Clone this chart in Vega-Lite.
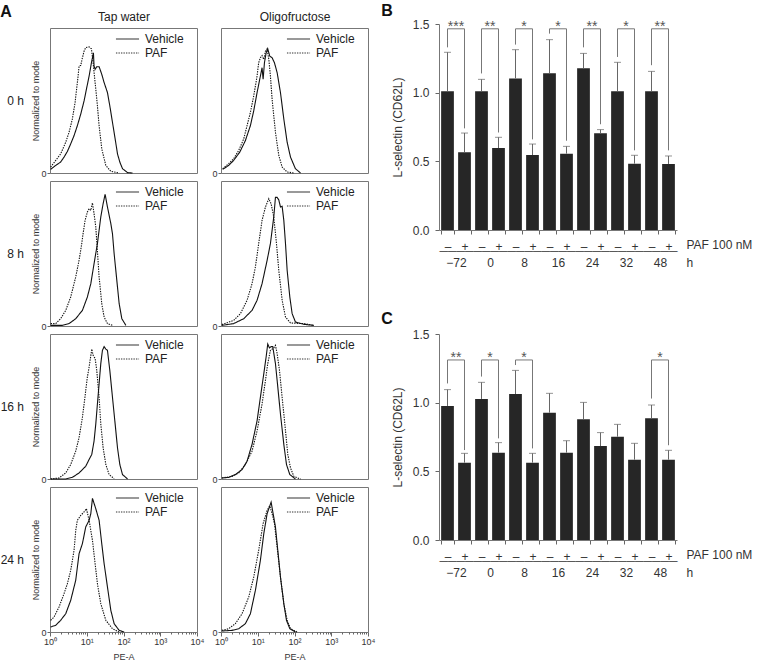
{
"$schema": "https://vega.github.io/schema/vega-lite/v6.json",
"padding": {"left": 0, "top": 3, "right": 0, "bottom": 0},
"config": {
  "font": "Liberation Sans",
  "view": {"stroke": "#777", "strokeWidth": 1},
  "axis": {"labelFont": "Liberation Sans", "titleFont": "Liberation Sans", "labelColor": "#333", "titleColor": "#333", "titleFontWeight": "normal", "tickColor": "#666", "domainColor": "#777", "grid": false},
  "legend": {"orient": "none", "legendX": 69.5, "legendY": 3, "padding": 0, "labelFontSize": 12, "labelColor": "#222", "labelFont": "Liberation Sans", "symbolType": "M-1.65,0H1.65", "symbolSize": 196, "symbolStrokeWidth": 1.2, "symbolStrokeColor": "#333", "symbolFillColor": "transparent", "rowPadding": 0, "labelOffset": 9.5},
  "title": {"font": "Liberation Sans", "color": "#111"}
},
"datasets": {
"hist": [
{"cell":"T0","cond":"PAF","pe":1.04,"v":4.7},{"cell":"T0","cond":"PAF","pe":1.43,"v":10.0},{"cell":"T0","cond":"PAF","pe":1.95,"v":15.2},{"cell":"T0","cond":"PAF","pe":2.68,"v":24.4},{"cell":"T0","cond":"PAF","pe":3.30,"v":32.3},{"cell":"T0","cond":"PAF","pe":4.06,"v":42.8},{"cell":"T0","cond":"PAF","pe":4.81,"v":55.9},{"cell":"T0","cond":"PAF","pe":5.56,"v":71.7},{"cell":"T0","cond":"PAF","pe":6.18,"v":84.8},{"cell":"T0","cond":"PAF","pe":6.86,"v":85.3},{"cell":"T0","cond":"PAF","pe":7.62,"v":91.4},{"cell":"T0","cond":"PAF","pe":8.46,"v":96.6},{"cell":"T0","cond":"PAF","pe":9.39,"v":99.5},{"cell":"T0","cond":"PAF","pe":11.6,"v":100},{"cell":"T0","cond":"PAF","pe":13.4,"v":98.5},{"cell":"T0","cond":"PAF","pe":14.9,"v":87.4},{"cell":"T0","cond":"PAF","pe":16.9,"v":71.7},{"cell":"T0","cond":"PAF","pe":19.5,"v":53.3},{"cell":"T0","cond":"PAF","pe":21.7,"v":37.6},{"cell":"T0","cond":"PAF","pe":25.6,"v":19.2},{"cell":"T0","cond":"PAF","pe":33.0,"v":6.0},{"cell":"T0","cond":"PAF","pe":45.2,"v":1.3},{"cell":"T0","cond":"PAF","pe":76.2,"v":0},
{"cell":"T0","cond":"Vehicle","pe":1.04,"v":2.9},{"cell":"T0","cond":"Vehicle","pe":1.43,"v":6.0},{"cell":"T0","cond":"Vehicle","pe":1.95,"v":8.7},{"cell":"T0","cond":"Vehicle","pe":2.41,"v":12.6},{"cell":"T0","cond":"Vehicle","pe":2.97,"v":17.1},{"cell":"T0","cond":"Vehicle","pe":3.66,"v":23.1},{"cell":"T0","cond":"Vehicle","pe":4.52,"v":29.7},{"cell":"T0","cond":"Vehicle","pe":5.56,"v":37.6},{"cell":"T0","cond":"Vehicle","pe":6.86,"v":46.7},{"cell":"T0","cond":"Vehicle","pe":8.46,"v":57.2},{"cell":"T0","cond":"Vehicle","pe":9.79,"v":66.4},{"cell":"T0","cond":"Vehicle","pe":11.6,"v":76.9},{"cell":"T0","cond":"Vehicle","pe":13.4,"v":87.4},{"cell":"T0","cond":"Vehicle","pe":15.2,"v":95.3},{"cell":"T0","cond":"Vehicle","pe":15.8,"v":84.8},{"cell":"T0","cond":"Vehicle","pe":16.9,"v":82.2},{"cell":"T0","cond":"Vehicle","pe":18.7,"v":84.3},{"cell":"T0","cond":"Vehicle","pe":21.7,"v":84.3},{"cell":"T0","cond":"Vehicle","pe":25.6,"v":78.3},{"cell":"T0","cond":"Vehicle","pe":29.7,"v":71.7},{"cell":"T0","cond":"Vehicle","pe":36.6,"v":63.8},{"cell":"T0","cond":"Vehicle","pe":42.4,"v":53.3},{"cell":"T0","cond":"Vehicle","pe":50.1,"v":40.2},{"cell":"T0","cond":"Vehicle","pe":59.3,"v":27.0},{"cell":"T0","cond":"Vehicle","pe":68.6,"v":15.2},{"cell":"T0","cond":"Vehicle","pe":79.4,"v":8.7},{"cell":"T0","cond":"Vehicle","pe":94.0,"v":3.4},{"cell":"T0","cond":"Vehicle","pe":129,"v":0.3},{"cell":"T0","cond":"Vehicle","pe":176,"v":0},
{"cell":"O0","cond":"PAF","pe":1.11,"v":3.4},{"cell":"O0","cond":"PAF","pe":1.62,"v":7.4},{"cell":"O0","cond":"PAF","pe":2.21,"v":11.3},{"cell":"O0","cond":"PAF","pe":3.03,"v":17.9},{"cell":"O0","cond":"PAF","pe":4.15,"v":27.0},{"cell":"O0","cond":"PAF","pe":5.12,"v":37.6},{"cell":"O0","cond":"PAF","pe":6.31,"v":48.1},{"cell":"O0","cond":"PAF","pe":7.78,"v":61.2},{"cell":"O0","cond":"PAF","pe":9.59,"v":76.9},{"cell":"O0","cond":"PAF","pe":10.6,"v":87.4},{"cell":"O0","cond":"PAF","pe":11.8,"v":91.4},{"cell":"O0","cond":"PAF","pe":13.1,"v":93.2},{"cell":"O0","cond":"PAF","pe":14.6,"v":90.1},{"cell":"O0","cond":"PAF","pe":16.2,"v":96.6},{"cell":"O0","cond":"PAF","pe":18.0,"v":98.5},{"cell":"O0","cond":"PAF","pe":20.0,"v":90.1},{"cell":"O0","cond":"PAF","pe":22.1,"v":76.9},{"cell":"O0","cond":"PAF","pe":24.6,"v":58.6},{"cell":"O0","cond":"PAF","pe":30.3,"v":32.3},{"cell":"O0","cond":"PAF","pe":37.4,"v":13.9},{"cell":"O0","cond":"PAF","pe":46.1,"v":4.7},{"cell":"O0","cond":"PAF","pe":63.1,"v":0.8},{"cell":"O0","cond":"PAF","pe":95.9,"v":0},
{"cell":"O0","cond":"Vehicle","pe":1.11,"v":2.9},{"cell":"O0","cond":"Vehicle","pe":1.62,"v":6.0},{"cell":"O0","cond":"Vehicle","pe":2.21,"v":10.0},{"cell":"O0","cond":"Vehicle","pe":3.23,"v":16.5},{"cell":"O0","cond":"Vehicle","pe":4.61,"v":25.7},{"cell":"O0","cond":"Vehicle","pe":6.31,"v":37.6},{"cell":"O0","cond":"Vehicle","pe":7.78,"v":49.4},{"cell":"O0","cond":"Vehicle","pe":9.59,"v":63.8},{"cell":"O0","cond":"Vehicle","pe":11.8,"v":76.9},{"cell":"O0","cond":"Vehicle","pe":13.1,"v":83.5},{"cell":"O0","cond":"Vehicle","pe":14.0,"v":74.3},{"cell":"O0","cond":"Vehicle","pe":15.2,"v":87.4},{"cell":"O0","cond":"Vehicle","pe":16.9,"v":95.3},{"cell":"O0","cond":"Vehicle","pe":18.7,"v":98.5},{"cell":"O0","cond":"Vehicle","pe":21.2,"v":92.7},{"cell":"O0","cond":"Vehicle","pe":24.6,"v":91.4},{"cell":"O0","cond":"Vehicle","pe":28.5,"v":87.4},{"cell":"O0","cond":"Vehicle","pe":33.7,"v":79.6},{"cell":"O0","cond":"Vehicle","pe":41.5,"v":63.8},{"cell":"O0","cond":"Vehicle","pe":51.2,"v":42.8},{"cell":"O0","cond":"Vehicle","pe":63.1,"v":24.4},{"cell":"O0","cond":"Vehicle","pe":77.8,"v":12.6},{"cell":"O0","cond":"Vehicle","pe":106,"v":3.4},{"cell":"O0","cond":"Vehicle","pe":146,"v":0},
{"cell":"T8","cond":"PAF","pe":1.04,"v":1.9},{"cell":"T8","cond":"PAF","pe":1.43,"v":1.9},{"cell":"T8","cond":"PAF","pe":1.95,"v":5.8},{"cell":"T8","cond":"PAF","pe":2.68,"v":12.4},{"cell":"T8","cond":"PAF","pe":3.66,"v":23.0},{"cell":"T8","cond":"PAF","pe":5.01,"v":38.9},{"cell":"T8","cond":"PAF","pe":6.18,"v":52.1},{"cell":"T8","cond":"PAF","pe":7.31,"v":65.3},{"cell":"T8","cond":"PAF","pe":7.94,"v":73.2},{"cell":"T8","cond":"PAF","pe":9.01,"v":83.8},{"cell":"T8","cond":"PAF","pe":10.4,"v":90.4},{"cell":"T8","cond":"PAF","pe":11.6,"v":93.1},{"cell":"T8","cond":"PAF","pe":12.9,"v":91.7},{"cell":"T8","cond":"PAF","pe":14.3,"v":97.6},{"cell":"T8","cond":"PAF","pe":15.8,"v":89.1},{"cell":"T8","cond":"PAF","pe":17.6,"v":78.5},{"cell":"T8","cond":"PAF","pe":19.5,"v":60.0},{"cell":"T8","cond":"PAF","pe":21.7,"v":38.9},{"cell":"T8","cond":"PAF","pe":25.6,"v":17.7},{"cell":"T8","cond":"PAF","pe":29.7,"v":7.1},{"cell":"T8","cond":"PAF","pe":36.6,"v":1.9},{"cell":"T8","cond":"PAF","pe":50.1,"v":0.5},
{"cell":"T8","cond":"Vehicle","pe":1.04,"v":0.5},{"cell":"T8","cond":"Vehicle","pe":2.17,"v":0.5},{"cell":"T8","cond":"Vehicle","pe":3.30,"v":1.9},{"cell":"T8","cond":"Vehicle","pe":5.01,"v":5.8},{"cell":"T8","cond":"Vehicle","pe":7.62,"v":12.4},{"cell":"T8","cond":"Vehicle","pe":10.4,"v":23.0},{"cell":"T8","cond":"Vehicle","pe":12.9,"v":33.6},{"cell":"T8","cond":"Vehicle","pe":15.8,"v":49.4},{"cell":"T8","cond":"Vehicle","pe":19.5,"v":65.3},{"cell":"T8","cond":"Vehicle","pe":24.1,"v":86.5},{"cell":"T8","cond":"Vehicle","pe":27.9,"v":97.0},{"cell":"T8","cond":"Vehicle","pe":31.6,"v":104.5},{"cell":"T8","cond":"Vehicle","pe":36.6,"v":94.4},{"cell":"T8","cond":"Vehicle","pe":45.2,"v":81.2},{"cell":"T8","cond":"Vehicle","pe":50.1,"v":73.2},{"cell":"T8","cond":"Vehicle","pe":55.6,"v":57.4},{"cell":"T8","cond":"Vehicle","pe":64.4,"v":38.9},{"cell":"T8","cond":"Vehicle","pe":76.2,"v":17.7},{"cell":"T8","cond":"Vehicle","pe":90.1,"v":5.8},{"cell":"T8","cond":"Vehicle","pe":116,"v":0.5},
{"cell":"O8","cond":"PAF","pe":1.06,"v":1.1},{"cell":"O8","cond":"PAF","pe":2.21,"v":4.5},{"cell":"O8","cond":"PAF","pe":3.37,"v":9.8},{"cell":"O8","cond":"PAF","pe":5.12,"v":20.4},{"cell":"O8","cond":"PAF","pe":7.00,"v":33.6},{"cell":"O8","cond":"PAF","pe":8.63,"v":46.8},{"cell":"O8","cond":"PAF","pe":10.6,"v":65.3},{"cell":"O8","cond":"PAF","pe":13.1,"v":83.8},{"cell":"O8","cond":"PAF","pe":16.2,"v":94.4},{"cell":"O8","cond":"PAF","pe":20.0,"v":101},{"cell":"O8","cond":"PAF","pe":23.1,"v":97.0},{"cell":"O8","cond":"PAF","pe":27.3,"v":86.5},{"cell":"O8","cond":"PAF","pe":32.3,"v":65.3},{"cell":"O8","cond":"PAF","pe":37.4,"v":44.2},{"cell":"O8","cond":"PAF","pe":46.1,"v":20.4},{"cell":"O8","cond":"PAF","pe":56.9,"v":7.1},{"cell":"O8","cond":"PAF","pe":77.8,"v":2.4},{"cell":"O8","cond":"PAF","pe":180,"v":1.9},{"cell":"O8","cond":"PAF","pe":337,"v":0.5},
{"cell":"O8","cond":"Vehicle","pe":1.06,"v":0.5},{"cell":"O8","cond":"Vehicle","pe":2.21,"v":1.9},{"cell":"O8","cond":"Vehicle","pe":4.15,"v":5.8},{"cell":"O8","cond":"Vehicle","pe":7.00,"v":12.4},{"cell":"O8","cond":"Vehicle","pe":9.59,"v":20.4},{"cell":"O8","cond":"Vehicle","pe":13.1,"v":33.6},{"cell":"O8","cond":"Vehicle","pe":18.0,"v":52.1},{"cell":"O8","cond":"Vehicle","pe":22.1,"v":65.3},{"cell":"O8","cond":"Vehicle","pe":27.3,"v":86.5},{"cell":"O8","cond":"Vehicle","pe":30.3,"v":102},{"cell":"O8","cond":"Vehicle","pe":33.7,"v":102},{"cell":"O8","cond":"Vehicle","pe":37.4,"v":100},{"cell":"O8","cond":"Vehicle","pe":41.5,"v":94.4},{"cell":"O8","cond":"Vehicle","pe":46.1,"v":94.9},{"cell":"O8","cond":"Vehicle","pe":51.2,"v":83.8},{"cell":"O8","cond":"Vehicle","pe":56.9,"v":65.3},{"cell":"O8","cond":"Vehicle","pe":63.1,"v":44.2},{"cell":"O8","cond":"Vehicle","pe":74.6,"v":23.0},{"cell":"O8","cond":"Vehicle","pe":86.3,"v":9.8},{"cell":"O8","cond":"Vehicle","pe":106,"v":3.2},{"cell":"O8","cond":"Vehicle","pe":180,"v":1.3},{"cell":"O8","cond":"Vehicle","pe":337,"v":0.5},
{"cell":"T16","cond":"PAF","pe":1.04,"v":0},{"cell":"T16","cond":"PAF","pe":1.76,"v":0.8},{"cell":"T16","cond":"PAF","pe":2.68,"v":4.8},{"cell":"T16","cond":"PAF","pe":3.66,"v":11.5},{"cell":"T16","cond":"PAF","pe":5.01,"v":22.1},{"cell":"T16","cond":"PAF","pe":6.18,"v":32.8},{"cell":"T16","cond":"PAF","pe":7.62,"v":48.8},{"cell":"T16","cond":"PAF","pe":8.46,"v":59.5},{"cell":"T16","cond":"PAF","pe":9.39,"v":70.2},{"cell":"T16","cond":"PAF","pe":10.4,"v":80.8},{"cell":"T16","cond":"PAF","pe":11.6,"v":88.8},{"cell":"T16","cond":"PAF","pe":13.7,"v":103},{"cell":"T16","cond":"PAF","pe":14.9,"v":98.2},{"cell":"T16","cond":"PAF","pe":16.9,"v":95.5},{"cell":"T16","cond":"PAF","pe":18.7,"v":86.2},{"cell":"T16","cond":"PAF","pe":21.7,"v":64.8},{"cell":"T16","cond":"PAF","pe":24.1,"v":43.5},{"cell":"T16","cond":"PAF","pe":27.9,"v":24.8},{"cell":"T16","cond":"PAF","pe":33.0,"v":11.5},{"cell":"T16","cond":"PAF","pe":40.6,"v":3.5},{"cell":"T16","cond":"PAF","pe":55.6,"v":0.3},
{"cell":"T16","cond":"Vehicle","pe":1.04,"v":0},{"cell":"T16","cond":"Vehicle","pe":2.68,"v":0},{"cell":"T16","cond":"Vehicle","pe":4.06,"v":1.3},{"cell":"T16","cond":"Vehicle","pe":6.18,"v":4.8},{"cell":"T16","cond":"Vehicle","pe":9.39,"v":10.1},{"cell":"T16","cond":"Vehicle","pe":11.6,"v":15.5},{"cell":"T16","cond":"Vehicle","pe":13.7,"v":19.5},{"cell":"T16","cond":"Vehicle","pe":15.8,"v":30.1},{"cell":"T16","cond":"Vehicle","pe":17.6,"v":43.5},{"cell":"T16","cond":"Vehicle","pe":19.5,"v":59.5},{"cell":"T16","cond":"Vehicle","pe":21.7,"v":75.5},{"cell":"T16","cond":"Vehicle","pe":24.1,"v":91.5},{"cell":"T16","cond":"Vehicle","pe":26.7,"v":102},{"cell":"T16","cond":"Vehicle","pe":29.7,"v":105},{"cell":"T16","cond":"Vehicle","pe":33.0,"v":103},{"cell":"T16","cond":"Vehicle","pe":36.6,"v":102},{"cell":"T16","cond":"Vehicle","pe":42.4,"v":86.2},{"cell":"T16","cond":"Vehicle","pe":50.1,"v":64.8},{"cell":"T16","cond":"Vehicle","pe":59.3,"v":43.5},{"cell":"T16","cond":"Vehicle","pe":68.6,"v":24.8},{"cell":"T16","cond":"Vehicle","pe":79.4,"v":11.5},{"cell":"T16","cond":"Vehicle","pe":94.0,"v":3.5},{"cell":"T16","cond":"Vehicle","pe":129,"v":0},
{"cell":"O16","cond":"Vehicle","pe":1.06,"v":0.8},{"cell":"O16","cond":"Vehicle","pe":1.62,"v":1.3},{"cell":"O16","cond":"Vehicle","pe":2.46,"v":3.5},{"cell":"O16","cond":"Vehicle","pe":3.74,"v":7.5},{"cell":"O16","cond":"Vehicle","pe":5.12,"v":14.1},{"cell":"O16","cond":"Vehicle","pe":7.00,"v":27.5},{"cell":"O16","cond":"Vehicle","pe":9.59,"v":46.2},{"cell":"O16","cond":"Vehicle","pe":11.8,"v":64.8},{"cell":"O16","cond":"Vehicle","pe":14.6,"v":83.5},{"cell":"O16","cond":"Vehicle","pe":16.9,"v":96.8},{"cell":"O16","cond":"Vehicle","pe":18.7,"v":107},{"cell":"O16","cond":"Vehicle","pe":20.8,"v":104},{"cell":"O16","cond":"Vehicle","pe":23.1,"v":105},{"cell":"O16","cond":"Vehicle","pe":25.6,"v":105},{"cell":"O16","cond":"Vehicle","pe":30.3,"v":91.5},{"cell":"O16","cond":"Vehicle","pe":33.7,"v":78.2},{"cell":"O16","cond":"Vehicle","pe":41.5,"v":51.5},{"cell":"O16","cond":"Vehicle","pe":51.2,"v":27.5},{"cell":"O16","cond":"Vehicle","pe":60.5,"v":11.5},{"cell":"O16","cond":"Vehicle","pe":74.6,"v":3.5},{"cell":"O16","cond":"Vehicle","pe":106,"v":0},
{"cell":"O16","cond":"PAF","pe":1.06,"v":0.8},{"cell":"O16","cond":"PAF","pe":2.0,"v":2.1},{"cell":"O16","cond":"PAF","pe":3.03,"v":4.8},{"cell":"O16","cond":"PAF","pe":4.61,"v":11.5},{"cell":"O16","cond":"PAF","pe":7.00,"v":22.1},{"cell":"O16","cond":"PAF","pe":9.59,"v":38.2},{"cell":"O16","cond":"PAF","pe":13.1,"v":59.5},{"cell":"O16","cond":"PAF","pe":16.2,"v":78.2},{"cell":"O16","cond":"PAF","pe":18.7,"v":91.5},{"cell":"O16","cond":"PAF","pe":22.1,"v":102},{"cell":"O16","cond":"PAF","pe":27.3,"v":104},{"cell":"O16","cond":"PAF","pe":30.3,"v":106},{"cell":"O16","cond":"PAF","pe":33.7,"v":99.5},{"cell":"O16","cond":"PAF","pe":39.0,"v":86.2},{"cell":"O16","cond":"PAF","pe":46.1,"v":64.8},{"cell":"O16","cond":"PAF","pe":56.9,"v":38.2},{"cell":"O16","cond":"PAF","pe":65.8,"v":19.5},{"cell":"O16","cond":"PAF","pe":77.8,"v":8.8},{"cell":"O16","cond":"PAF","pe":95.9,"v":2.1},{"cell":"O16","cond":"PAF","pe":146,"v":0},
{"cell":"T24","cond":"PAF","pe":1.04,"v":9.3},{"cell":"T24","cond":"PAF","pe":1.29,"v":11.9},{"cell":"T24","cond":"PAF","pe":1.76,"v":19.8},{"cell":"T24","cond":"PAF","pe":2.41,"v":30.4},{"cell":"T24","cond":"PAF","pe":2.97,"v":38.3},{"cell":"T24","cond":"PAF","pe":3.66,"v":48.9},{"cell":"T24","cond":"PAF","pe":4.52,"v":64.8},{"cell":"T24","cond":"PAF","pe":5.01,"v":80.6},{"cell":"T24","cond":"PAF","pe":5.56,"v":88.6},{"cell":"T24","cond":"PAF","pe":6.86,"v":92.5},{"cell":"T24","cond":"PAF","pe":8.46,"v":95.2},{"cell":"T24","cond":"PAF","pe":9.79,"v":97.8},{"cell":"T24","cond":"PAF","pe":11.6,"v":88.6},{"cell":"T24","cond":"PAF","pe":14.3,"v":72.7},{"cell":"T24","cond":"PAF","pe":16.9,"v":54.2},{"cell":"T24","cond":"PAF","pe":19.5,"v":38.3},{"cell":"T24","cond":"PAF","pe":24.1,"v":22.5},{"cell":"T24","cond":"PAF","pe":33.0,"v":9.3},{"cell":"T24","cond":"PAF","pe":50.1,"v":2.6},{"cell":"T24","cond":"PAF","pe":76.2,"v":0},
{"cell":"T24","cond":"Vehicle","pe":1.04,"v":4.0},{"cell":"T24","cond":"Vehicle","pe":1.43,"v":5.3},{"cell":"T24","cond":"Vehicle","pe":1.95,"v":9.3},{"cell":"T24","cond":"Vehicle","pe":2.68,"v":14.5},{"cell":"T24","cond":"Vehicle","pe":3.66,"v":25.1},{"cell":"T24","cond":"Vehicle","pe":5.01,"v":41.0},{"cell":"T24","cond":"Vehicle","pe":6.18,"v":62.1},{"cell":"T24","cond":"Vehicle","pe":7.62,"v":70.1},{"cell":"T24","cond":"Vehicle","pe":9.39,"v":83.3},{"cell":"T24","cond":"Vehicle","pe":11.6,"v":88.6},{"cell":"T24","cond":"Vehicle","pe":12.9,"v":93.9},{"cell":"T24","cond":"Vehicle","pe":14.3,"v":106},{"cell":"T24","cond":"Vehicle","pe":15.8,"v":102},{"cell":"T24","cond":"Vehicle","pe":17.6,"v":97.8},{"cell":"T24","cond":"Vehicle","pe":21.7,"v":88.6},{"cell":"T24","cond":"Vehicle","pe":25.6,"v":70.1},{"cell":"T24","cond":"Vehicle","pe":29.7,"v":54.2},{"cell":"T24","cond":"Vehicle","pe":36.6,"v":35.7},{"cell":"T24","cond":"Vehicle","pe":45.2,"v":17.2},{"cell":"T24","cond":"Vehicle","pe":55.6,"v":6.6},{"cell":"T24","cond":"Vehicle","pe":76.2,"v":1.3},{"cell":"T24","cond":"Vehicle","pe":104,"v":0},
{"cell":"O24","cond":"PAF","pe":1.06,"v":1.3},{"cell":"O24","cond":"PAF","pe":1.62,"v":2.6},{"cell":"O24","cond":"PAF","pe":2.46,"v":6.6},{"cell":"O24","cond":"PAF","pe":3.74,"v":14.5},{"cell":"O24","cond":"PAF","pe":5.69,"v":27.8},{"cell":"O24","cond":"PAF","pe":7.78,"v":43.6},{"cell":"O24","cond":"PAF","pe":10.6,"v":64.8},{"cell":"O24","cond":"PAF","pe":14.0,"v":85.9},{"cell":"O24","cond":"PAF","pe":18.0,"v":96.5},{"cell":"O24","cond":"PAF","pe":21.2,"v":100},{"cell":"O24","cond":"PAF","pe":24.6,"v":93.9},{"cell":"O24","cond":"PAF","pe":28.5,"v":85.9},{"cell":"O24","cond":"PAF","pe":33.7,"v":67.4},{"cell":"O24","cond":"PAF","pe":41.5,"v":43.6},{"cell":"O24","cond":"PAF","pe":51.2,"v":22.5},{"cell":"O24","cond":"PAF","pe":63.1,"v":9.3},{"cell":"O24","cond":"PAF","pe":77.8,"v":2.6},{"cell":"O24","cond":"PAF","pe":118,"v":0},
{"cell":"O24","cond":"Vehicle","pe":1.06,"v":0.8},{"cell":"O24","cond":"Vehicle","pe":2.0,"v":1.3},{"cell":"O24","cond":"Vehicle","pe":3.03,"v":2.6},{"cell":"O24","cond":"Vehicle","pe":4.61,"v":6.6},{"cell":"O24","cond":"Vehicle","pe":6.31,"v":14.5},{"cell":"O24","cond":"Vehicle","pe":8.63,"v":33.0},{"cell":"O24","cond":"Vehicle","pe":11.8,"v":56.8},{"cell":"O24","cond":"Vehicle","pe":14.6,"v":78.0},{"cell":"O24","cond":"Vehicle","pe":18.0,"v":93.9},{"cell":"O24","cond":"Vehicle","pe":23.1,"v":103},{"cell":"O24","cond":"Vehicle","pe":26.2,"v":93.9},{"cell":"O24","cond":"Vehicle","pe":30.3,"v":83.3},{"cell":"O24","cond":"Vehicle","pe":35.1,"v":64.8},{"cell":"O24","cond":"Vehicle","pe":41.5,"v":43.6},{"cell":"O24","cond":"Vehicle","pe":51.2,"v":22.5},{"cell":"O24","cond":"Vehicle","pe":60.5,"v":9.3},{"cell":"O24","cond":"Vehicle","pe":74.6,"v":2.6},{"cell":"O24","cond":"Vehicle","pe":106,"v":0}
],
"bars": [
{"panel":"B","group":"−72","key":"−72 –","mean":1.01,"err":1.294},{"panel":"B","group":"−72","key":"−72 +","mean":0.566,"err":0.706},
{"panel":"B","group":"0","key":"0 –","mean":1.01,"err":1.097},{"panel":"B","group":"0","key":"0 +","mean":0.597,"err":0.675},
{"panel":"B","group":"8","key":"8 –","mean":1.104,"err":1.313},{"panel":"B","group":"8","key":"8 +","mean":0.546,"err":0.626},
{"panel":"B","group":"16","key":"16 –","mean":1.141,"err":1.386},{"panel":"B","group":"16","key":"16 +","mean":0.556,"err":0.609},
{"panel":"B","group":"24","key":"24 –","mean":1.177,"err":1.286},{"panel":"B","group":"24","key":"24 +","mean":0.704,"err":0.731},
{"panel":"B","group":"32","key":"32 –","mean":1.01,"err":1.221},{"panel":"B","group":"32","key":"32 +","mean":0.483,"err":0.544},
{"panel":"B","group":"48","key":"48 –","mean":1.01,"err":1.155},{"panel":"B","group":"48","key":"48 +","mean":0.481,"err":0.539},
{"panel":"C","group":"−72","key":"−72 –","mean":0.976,"err":1.095},{"panel":"C","group":"−72","key":"−72 +","mean":0.563,"err":0.631},
{"panel":"C","group":"0","key":"0 –","mean":1.027,"err":1.148},{"panel":"C","group":"0","key":"0 +","mean":0.636,"err":0.709},
{"panel":"C","group":"8","key":"8 –","mean":1.063,"err":1.235},{"panel":"C","group":"8","key":"8 +","mean":0.563,"err":0.631},
{"panel":"C","group":"16","key":"16 –","mean":0.927,"err":1.068},{"panel":"C","group":"16","key":"16 +","mean":0.636,"err":0.723},
{"panel":"C","group":"24","key":"24 –","mean":0.879,"err":1.002},{"panel":"C","group":"24","key":"24 +","mean":0.684,"err":0.782},
{"panel":"C","group":"32","key":"32 –","mean":0.752,"err":0.842},{"panel":"C","group":"32","key":"32 +","mean":0.585,"err":0.704},
{"panel":"C","group":"48","key":"48 –","mean":0.886,"err":0.983},{"panel":"C","group":"48","key":"48 +","mean":0.585,"err":0.653}
],
"brackets": [
{"panel":"B","group":"−72","stars":"***","seq":1,"key":"−72 –","y":1.33},{"panel":"B","group":"−72","stars":"***","seq":2,"key":"−72 –","y":1.465},{"panel":"B","group":"−72","stars":"***","seq":3,"key":"−72 +","y":1.465},{"panel":"B","group":"−72","stars":"***","seq":4,"key":"−72 +","y":0.74},
{"panel":"B","group":"0","stars":"**","seq":1,"key":"0 –","y":1.14},{"panel":"B","group":"0","stars":"**","seq":2,"key":"0 –","y":1.465},{"panel":"B","group":"0","stars":"**","seq":3,"key":"0 +","y":1.465},{"panel":"B","group":"0","stars":"**","seq":4,"key":"0 +","y":0.71},
{"panel":"B","group":"8","stars":"*","seq":1,"key":"8 –","y":1.35},{"panel":"B","group":"8","stars":"*","seq":2,"key":"8 –","y":1.465},{"panel":"B","group":"8","stars":"*","seq":3,"key":"8 +","y":1.465},{"panel":"B","group":"8","stars":"*","seq":4,"key":"8 +","y":0.66},
{"panel":"B","group":"16","stars":"*","seq":1,"key":"16 –","y":1.43},{"panel":"B","group":"16","stars":"*","seq":2,"key":"16 –","y":1.465},{"panel":"B","group":"16","stars":"*","seq":3,"key":"16 +","y":1.465},{"panel":"B","group":"16","stars":"*","seq":4,"key":"16 +","y":0.65},
{"panel":"B","group":"24","stars":"**","seq":1,"key":"24 –","y":1.33},{"panel":"B","group":"24","stars":"**","seq":2,"key":"24 –","y":1.465},{"panel":"B","group":"24","stars":"**","seq":3,"key":"24 +","y":1.465},{"panel":"B","group":"24","stars":"**","seq":4,"key":"24 +","y":0.77},
{"panel":"B","group":"32","stars":"*","seq":1,"key":"32 –","y":1.26},{"panel":"B","group":"32","stars":"*","seq":2,"key":"32 –","y":1.465},{"panel":"B","group":"32","stars":"*","seq":3,"key":"32 +","y":1.465},{"panel":"B","group":"32","stars":"*","seq":4,"key":"32 +","y":0.58},
{"panel":"B","group":"48","stars":"**","seq":1,"key":"48 –","y":1.20},{"panel":"B","group":"48","stars":"**","seq":2,"key":"48 –","y":1.465},{"panel":"B","group":"48","stars":"**","seq":3,"key":"48 +","y":1.465},{"panel":"B","group":"48","stars":"**","seq":4,"key":"48 +","y":0.58},
{"panel":"C","group":"−72","stars":"**","seq":1,"key":"−72 –","y":1.14},{"panel":"C","group":"−72","stars":"**","seq":2,"key":"−72 –","y":1.311},{"panel":"C","group":"−72","stars":"**","seq":3,"key":"−72 +","y":1.311},{"panel":"C","group":"−72","stars":"**","seq":4,"key":"−72 +","y":0.655},
{"panel":"C","group":"0","stars":"*","seq":1,"key":"0 –","y":1.19},{"panel":"C","group":"0","stars":"*","seq":2,"key":"0 –","y":1.311},{"panel":"C","group":"0","stars":"*","seq":3,"key":"0 +","y":1.311},{"panel":"C","group":"0","stars":"*","seq":4,"key":"0 +","y":0.74},
{"panel":"C","group":"8","stars":"*","seq":1,"key":"8 –","y":1.274},{"panel":"C","group":"8","stars":"*","seq":2,"key":"8 –","y":1.311},{"panel":"C","group":"8","stars":"*","seq":3,"key":"8 +","y":1.311},{"panel":"C","group":"8","stars":"*","seq":4,"key":"8 +","y":0.667},
{"panel":"C","group":"48","stars":"*","seq":1,"key":"48 –","y":1.03},{"panel":"C","group":"48","stars":"*","seq":2,"key":"48 –","y":1.311},{"panel":"C","group":"48","stars":"*","seq":3,"key":"48 +","y":1.311},{"panel":"C","group":"48","stars":"*","seq":4,"key":"48 +","y":0.69}
]
},
"hconcat": [
{
 "title": {"text": "A", "anchor": "start", "fontSize": 16, "fontWeight": "bold", "offset": -10, "dx": 0},
 "spacing": 6,
 "resolve": {"scale": {"strokeDash": "independent"}},
 "hconcat": [
  {
   "spacing": 1,
   "resolve": {"scale": {"strokeDash": "independent"}},
   "vconcat": [
    {"width": 147, "height": 145, "data": {"name": "hist"}, "transform": [{"filter": "datum.cell == 'T0'"}],
     "title": {"text": "0 h", "orient": "left", "angle": 0, "align": "left", "baseline": "middle", "anchor": "middle", "fontSize": 12, "fontWeight": "normal", "offset": 8, "color": "#222"},
     "mark": {"type": "line", "strokeWidth": 1.1, "color": "#111"},
     "encoding": {
      "x": {"field": "pe", "type": "quantitative", "scale": {"type": "log", "domain": [1, 10000]}, "axis": {"orient": "top", "title": "Tap water", "labels": false, "ticks": false, "domain": false, "titleFontSize": 12, "titlePadding": 5, "titleColor": "#222"}},
      "y": {"field": "v", "type": "quantitative", "scale": {"domain": [0, 115], "nice": false}, "axis": {"values": [0], "title": "Normalized to mode", "titleFontSize": 9, "titlePadding": 0, "domain": false, "tickSize": 3, "labelFontSize": 9, "labelPadding": 1}},
      "strokeDash": {"field": "cond", "type": "nominal", "scale": {"domain": ["Vehicle", "PAF"], "range": [[1, 0], [1.4, 1.1]]}, "legend": {"title": null}}
     }},
    {"width": 147, "height": 145, "data": {"name": "hist"}, "transform": [{"filter": "datum.cell == 'T8'"}],
     "title": {"text": "8 h", "orient": "left", "angle": 0, "align": "left", "baseline": "middle", "anchor": "middle", "fontSize": 12, "fontWeight": "normal", "offset": 8, "color": "#222"},
     "mark": {"type": "line", "strokeWidth": 1.1, "color": "#111"},
     "encoding": {
      "x": {"field": "pe", "type": "quantitative", "scale": {"type": "log", "domain": [1, 10000]}, "axis": null},
      "y": {"field": "v", "type": "quantitative", "scale": {"domain": [0, 115], "nice": false}, "axis": {"values": [0], "title": "Normalized to mode", "titleFontSize": 9, "titlePadding": 0, "domain": false, "tickSize": 3, "labelFontSize": 9, "labelPadding": 1}},
      "strokeDash": {"field": "cond", "type": "nominal", "scale": {"domain": ["Vehicle", "PAF"], "range": [[1, 0], [1.4, 1.1]]}, "legend": {"title": null}}
     }},
    {"width": 147, "height": 145, "data": {"name": "hist"}, "transform": [{"filter": "datum.cell == 'T16'"}],
     "title": {"text": "16 h", "orient": "left", "angle": 0, "align": "left", "baseline": "middle", "anchor": "middle", "fontSize": 12, "fontWeight": "normal", "offset": 8, "color": "#222"},
     "mark": {"type": "line", "strokeWidth": 1.1, "color": "#111"},
     "encoding": {
      "x": {"field": "pe", "type": "quantitative", "scale": {"type": "log", "domain": [1, 10000]}, "axis": null},
      "y": {"field": "v", "type": "quantitative", "scale": {"domain": [0, 115], "nice": false}, "axis": {"values": [0], "title": "Normalized to mode", "titleFontSize": 9, "titlePadding": 0, "domain": false, "tickSize": 3, "labelFontSize": 9, "labelPadding": 1}},
      "strokeDash": {"field": "cond", "type": "nominal", "scale": {"domain": ["Vehicle", "PAF"], "range": [[1, 0], [1.4, 1.1]]}, "legend": {"title": null}}
     }},
    {"width": 147, "height": 145, "data": {"name": "hist"}, "transform": [{"filter": "datum.cell == 'T24'"}],
     "title": {"text": "24 h", "orient": "left", "angle": 0, "align": "left", "baseline": "middle", "anchor": "middle", "fontSize": 12, "fontWeight": "normal", "offset": 8, "color": "#222"},
     "mark": {"type": "line", "strokeWidth": 1.1, "color": "#111"},
     "encoding": {
      "x": {"field": "pe", "type": "quantitative", "scale": {"type": "log", "domain": [1, 10000]}, "axis": {"values": [1,2,3,4,5,6,7,8,9,10,20,30,40,50,60,70,80,90,100,200,300,400,500,600,700,800,900,1000,2000,3000,4000,5000,6000,7000,8000,9000,10000], "labelExpr": "datum.value == 1 ? '10⁰' : datum.value == 10 ? '10¹' : datum.value == 100 ? '10²' : datum.value == 1000 ? '10³' : datum.value == 10000 ? '10⁴' : ''", "labelFontSize": 9, "labelOverlap": false, "labelFlush": false, "labelPadding": 1, "tickSize": {"condition": {"test": "indexof([1,10,100,1000,10000], datum.value) >= 0", "value": 4}, "value": 2}, "domain": false, "title": "PE-A", "titleFontSize": 9, "titlePadding": 6}},
      "y": {"field": "v", "type": "quantitative", "scale": {"domain": [0, 115], "nice": false}, "axis": {"values": [0], "title": "Normalized to mode", "titleFontSize": 9, "titlePadding": 0, "domain": false, "tickSize": 3, "labelFontSize": 9, "labelPadding": 1}},
      "strokeDash": {"field": "cond", "type": "nominal", "scale": {"domain": ["Vehicle", "PAF"], "range": [[1, 0], [1.4, 1.1]]}, "legend": {"title": null}}
     }}
   ]
  },
  {
   "spacing": 1,
   "resolve": {"scale": {"strokeDash": "independent"}},
   "vconcat": [
    {"width": 147, "height": 145, "data": {"name": "hist"}, "transform": [{"filter": "datum.cell == 'O0'"}],
     "mark": {"type": "line", "strokeWidth": 1.1, "color": "#111"},
     "encoding": {
      "x": {"field": "pe", "type": "quantitative", "scale": {"type": "log", "domain": [1, 10000]}, "axis": {"orient": "top", "title": "Oligofructose", "labels": false, "ticks": false, "domain": false, "titleFontSize": 12, "titlePadding": 5, "titleColor": "#222"}},
      "y": {"field": "v", "type": "quantitative", "scale": {"domain": [0, 115], "nice": false}, "axis": {"values": [0], "title": null, "domain": false, "tickSize": 3, "labelFontSize": 9, "labelPadding": 1}},
      "strokeDash": {"field": "cond", "type": "nominal", "scale": {"domain": ["Vehicle", "PAF"], "range": [[1, 0], [1.4, 1.1]]}, "legend": {"title": null}}
     }},
    {"width": 147, "height": 145, "data": {"name": "hist"}, "transform": [{"filter": "datum.cell == 'O8'"}],
     "mark": {"type": "line", "strokeWidth": 1.1, "color": "#111"},
     "encoding": {
      "x": {"field": "pe", "type": "quantitative", "scale": {"type": "log", "domain": [1, 10000]}, "axis": null},
      "y": {"field": "v", "type": "quantitative", "scale": {"domain": [0, 115], "nice": false}, "axis": {"values": [0], "title": null, "domain": false, "tickSize": 3, "labelFontSize": 9, "labelPadding": 1}},
      "strokeDash": {"field": "cond", "type": "nominal", "scale": {"domain": ["Vehicle", "PAF"], "range": [[1, 0], [1.4, 1.1]]}, "legend": {"title": null}}
     }},
    {"width": 147, "height": 145, "data": {"name": "hist"}, "transform": [{"filter": "datum.cell == 'O16'"}],
     "mark": {"type": "line", "strokeWidth": 1.1, "color": "#111"},
     "encoding": {
      "x": {"field": "pe", "type": "quantitative", "scale": {"type": "log", "domain": [1, 10000]}, "axis": null},
      "y": {"field": "v", "type": "quantitative", "scale": {"domain": [0, 115], "nice": false}, "axis": {"values": [0], "title": null, "domain": false, "tickSize": 3, "labelFontSize": 9, "labelPadding": 1}},
      "strokeDash": {"field": "cond", "type": "nominal", "scale": {"domain": ["Vehicle", "PAF"], "range": [[1, 0], [1.4, 1.1]]}, "legend": {"title": null}}
     }},
    {"width": 147, "height": 145, "data": {"name": "hist"}, "transform": [{"filter": "datum.cell == 'O24'"}],
     "mark": {"type": "line", "strokeWidth": 1.1, "color": "#111"},
     "encoding": {
      "x": {"field": "pe", "type": "quantitative", "scale": {"type": "log", "domain": [1, 10000]}, "axis": {"values": [1,2,3,4,5,6,7,8,9,10,20,30,40,50,60,70,80,90,100,200,300,400,500,600,700,800,900,1000,2000,3000,4000,5000,6000,7000,8000,9000,10000], "labelExpr": "datum.value == 1 ? '10⁰' : datum.value == 10 ? '10¹' : datum.value == 100 ? '10²' : datum.value == 1000 ? '10³' : datum.value == 10000 ? '10⁴' : ''", "labelFontSize": 9, "labelOverlap": false, "labelFlush": false, "labelPadding": 1, "tickSize": {"condition": {"test": "indexof([1,10,100,1000,10000], datum.value) >= 0", "value": 4}, "value": 2}, "domain": false, "title": "PE-A", "titleFontSize": 9, "titlePadding": 6}},
      "y": {"field": "v", "type": "quantitative", "scale": {"domain": [0, 115], "nice": false}, "axis": {"values": [0], "title": null, "domain": false, "tickSize": 3, "labelFontSize": 9, "labelPadding": 1}},
      "strokeDash": {"field": "cond", "type": "nominal", "scale": {"domain": ["Vehicle", "PAF"], "range": [[1, 0], [1.4, 1.1]]}, "legend": {"title": null}}
     }}
   ]
  }
 ]
},
{
 "spacing": 43,
 "title": {"text": "B", "anchor": "start", "fontSize": 16, "fontWeight": "bold", "dx": 0, "offset": -4},
 "vconcat": [
  {
   "width": 238, "height": 202,
   "view": {"stroke": null},
   "title": {"text": " ", "fontSize": 1, "offset": 2},
   "resolve": {"scale": {"x": "independent"}},
   "layer": [
    {"layer": [
      {"data": {"name": "bars"}, "transform": [{"filter": "datum.panel == 'B'"}], "mark": {"type": "bar", "color": "#262626"},
       "encoding": {
        "x": {"field": "key", "type": "nominal", "title": "PAF 100 nM", "scale": {"domain": ["−72 –","−72 +","0 –","0 +","8 –","8 +","16 –","16 +","24 –","24 +","32 –","32 +","48 –","48 +"], "paddingInner": 0.25, "paddingOuter": 0.125},
         "axis": {"orient": "bottom", "labelAngle": 0, "labelExpr": "split(datum.label, ' ')[1]", "tickBand": "extent", "tickSize": 4, "labelPadding": 7, "labelFontSize": 12, "titleAngle": 0, "titleAlign": "left", "titleBaseline": "middle", "titleX": 247, "titleY": 14, "titleFontSize": 12}},
        "y": {"field": "mean", "type": "quantitative", "title": "L-selectin (CD62L)", "scale": {"domain": [0, 1.5], "nice": false, "range": [202, -4]}, "axis": {"values": [0, 0.5, 1, 1.5], "format": ".1f", "tickSize": 4, "labelPadding": 6, "labelFontSize": 12, "titleFontSize": 12, "titlePadding": 8}}
       }},
      {"data": {"name": "bars"}, "transform": [{"filter": "datum.panel == 'B'"}], "mark": {"type": "rule", "color": "#666"},
       "encoding": {"x": {"field": "key", "type": "nominal", "title": "PAF 100 nM"}, "y": {"field": "mean", "type": "quantitative", "title": "L-selectin (CD62L)"}, "y2": {"field": "err"}}},
      {"data": {"name": "bars"}, "transform": [{"filter": "datum.panel == 'B'"}], "mark": {"type": "tick", "color": "#666", "size": 7, "thickness": 1},
       "encoding": {"x": {"field": "key", "type": "nominal", "title": "PAF 100 nM"}, "y": {"field": "err", "type": "quantitative", "title": "L-selectin (CD62L)"}}},
      {"data": {"name": "brackets"}, "transform": [{"filter": "datum.panel == 'B'"}], "mark": {"type": "line", "color": "#777", "strokeWidth": 1},
       "encoding": {"x": {"field": "key", "type": "nominal", "title": "PAF 100 nM"}, "y": {"field": "y", "type": "quantitative", "title": "L-selectin (CD62L)"}, "detail": {"field": "group"}, "order": {"field": "seq", "type": "quantitative"}}}
    ]},
    {"data": {"name": "brackets"}, "transform": [{"filter": "datum.panel == 'B' && datum.seq == 2"}],
     "mark": {"type": "text", "fontSize": 14, "dy": 2, "baseline": "alphabetic", "color": "#555"},
     "encoding": {
      "x": {"field": "group", "type": "nominal", "title": "h", "scale": {"domain": ["−72","0","8","16","24","32","48"], "paddingInner": 0, "paddingOuter": 0},
       "axis": {"orient": "bottom", "offset": 15, "domain": false, "ticks": false, "labelAngle": 0, "labelPadding": 0, "labelFontSize": 12, "labelLineHeight": 12, "labelOverlap": false, "labelExpr": "['────', datum.label]", "titleAngle": 0, "titleAlign": "left", "titleBaseline": "middle", "titleX": 247, "titleY": 17, "titleFontSize": 12}},
      "y": {"field": "y", "type": "quantitative", "title": "L-selectin (CD62L)"},
      "text": {"field": "stars"}
     }}
   ]
  },
  {
   "width": 238, "height": 206,
   "view": {"stroke": null},
   "title": {"text": "C", "anchor": "start", "fontSize": 16, "fontWeight": "bold", "dx": -10, "offset": 1},
   "resolve": {"scale": {"x": "independent"}},
   "layer": [
    {"layer": [
      {"data": {"name": "bars"}, "transform": [{"filter": "datum.panel == 'C'"}], "mark": {"type": "bar", "color": "#262626"},
       "encoding": {
        "x": {"field": "key", "type": "nominal", "title": "PAF 100 nM", "scale": {"domain": ["−72 –","−72 +","0 –","0 +","8 –","8 +","16 –","16 +","24 –","24 +","32 –","32 +","48 –","48 +"], "paddingInner": 0.25, "paddingOuter": 0.125},
         "axis": {"orient": "bottom", "labelAngle": 0, "labelExpr": "split(datum.label, ' ')[1]", "tickBand": "extent", "tickSize": 4, "labelPadding": 7, "labelFontSize": 12, "titleAngle": 0, "titleAlign": "left", "titleBaseline": "middle", "titleX": 247, "titleY": 14, "titleFontSize": 12}},
        "y": {"field": "mean", "type": "quantitative", "title": "L-selectin (CD62L)", "scale": {"domain": [0, 1.5], "nice": false}, "axis": {"values": [0, 0.5, 1, 1.5], "format": ".1f", "tickSize": 4, "labelPadding": 6, "labelFontSize": 12, "titleFontSize": 12, "titlePadding": 8}}
       }},
      {"data": {"name": "bars"}, "transform": [{"filter": "datum.panel == 'C'"}], "mark": {"type": "rule", "color": "#666"},
       "encoding": {"x": {"field": "key", "type": "nominal", "title": "PAF 100 nM"}, "y": {"field": "mean", "type": "quantitative", "title": "L-selectin (CD62L)"}, "y2": {"field": "err"}}},
      {"data": {"name": "bars"}, "transform": [{"filter": "datum.panel == 'C'"}], "mark": {"type": "tick", "color": "#666", "size": 7, "thickness": 1},
       "encoding": {"x": {"field": "key", "type": "nominal", "title": "PAF 100 nM"}, "y": {"field": "err", "type": "quantitative", "title": "L-selectin (CD62L)"}}},
      {"data": {"name": "brackets"}, "transform": [{"filter": "datum.panel == 'C'"}], "mark": {"type": "line", "color": "#777", "strokeWidth": 1},
       "encoding": {"x": {"field": "key", "type": "nominal", "title": "PAF 100 nM"}, "y": {"field": "y", "type": "quantitative", "title": "L-selectin (CD62L)"}, "detail": {"field": "group"}, "order": {"field": "seq", "type": "quantitative"}}}
    ]},
    {"data": {"name": "brackets"}, "transform": [{"filter": "datum.panel == 'C' && datum.seq == 2"}],
     "mark": {"type": "text", "fontSize": 14, "dy": 2, "baseline": "alphabetic", "color": "#555"},
     "encoding": {
      "x": {"field": "group", "type": "nominal", "title": "h", "scale": {"domain": ["−72","0","8","16","24","32","48"], "paddingInner": 0, "paddingOuter": 0},
       "axis": {"orient": "bottom", "offset": 15, "domain": false, "ticks": false, "labelAngle": 0, "labelPadding": 0, "labelFontSize": 12, "labelLineHeight": 12, "labelOverlap": false, "labelExpr": "['────', datum.label]", "titleAngle": 0, "titleAlign": "left", "titleBaseline": "middle", "titleX": 247, "titleY": 17, "titleFontSize": 12}},
      "y": {"field": "y", "type": "quantitative", "title": "L-selectin (CD62L)"},
      "text": {"field": "stars"}
     }}
   ]
  }
 ]
}
],
"spacing": 5,
"resolve": {"scale": {"strokeDash": "independent"}}
}
